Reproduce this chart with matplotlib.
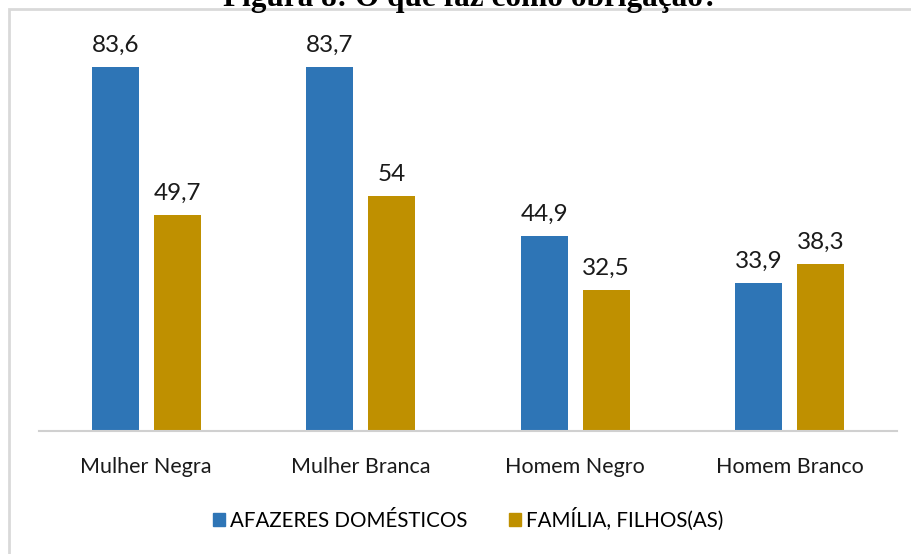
import matplotlib
matplotlib.use("Agg")
import matplotlib.pyplot as plt
from matplotlib.patches import Rectangle, Patch
import numpy as np

categories = ["Mulher Negra", "Mulher Branca", "Homem Negro", "Homem Branco"]
afazeres = [83.6, 83.7, 44.9, 33.9]
familia = [49.7, 54, 32.5, 38.3]
series_names = ["AFAZERES DOMÉSTICOS", "FAMÍLIA, FILHOS(AS)"]
labels_af = ["83,6", "83,7", "44,9", "33,9"]
labels_fa = ["49,7", "54", "32,5", "38,3"]
title = "Figura 8: O que faz como obrigação?"

blue = "#2E75B6"
gold = "#BF9000"

W, H = 912, 554
fig = plt.figure(figsize=(W / 100, H / 100), dpi=100)
fig.patch.set_facecolor("white")

font = ["Lato", "DejaVu Sans"]

# border box
fig.patches.append(Rectangle((9 / W, -0.01), 1.0, (H - 9) / H + 0.01,
                             transform=fig.transFigure, fill=False,
                             edgecolor="#d9d9d9", linewidth=2))

# cut-off title
fig.text(471 / W, 1 - 6 / H, title, ha="center", va="baseline",
         fontsize=22.5, fontweight="bold", family="Liberation Serif")

ax = fig.add_axes([39 / W, 1 - 431 / H, (897 - 39) / W, (431 - 20) / H])
ax.set_xlim(-0.5, 3.5)
ax.set_ylim(0, 94.4)

x = np.arange(len(categories))
w = 0.219
off = 0.1435
b1 = ax.bar(x - off, afazeres, w, color=blue, zorder=2)
b2 = ax.bar(x + off, familia, w, color=gold, zorder=2)

for bars, labs in ((b1, labels_af), (b2, labels_fa)):
    for r, lab in zip(bars, labs):
        ax.annotate(lab, (r.get_x() + r.get_width() / 2, r.get_height()),
                    xytext=(0, 8), textcoords="offset points",
                    ha="center", va="bottom", fontsize=17.5, family=font,
                    color="#1a1a1a")

for s in ["top", "right", "left"]:
    ax.spines[s].set_visible(False)
ax.spines["bottom"].set_color("#d0d0d0")
ax.spines["bottom"].set_linewidth(1.5)
ax.set_yticks([])
ax.set_xticks(x)
ax.set_xticklabels(categories, fontsize=15.5, family=font, color="#1a1a1a")
ax.tick_params(axis="x", length=0, pad=19)

handles = [Patch(color=blue), Patch(color=gold)]
fig.legend(handles, series_names, loc="center", bbox_to_anchor=(468 / W, 1 - 519 / H),
           ncol=2, frameon=False, prop={"family": font, "size": 14.8},
           handlelength=0.6, handleheight=0.6, handletextpad=0.25, columnspacing=2.0)

fig.savefig("out.png", dpi=100, facecolor="white")
